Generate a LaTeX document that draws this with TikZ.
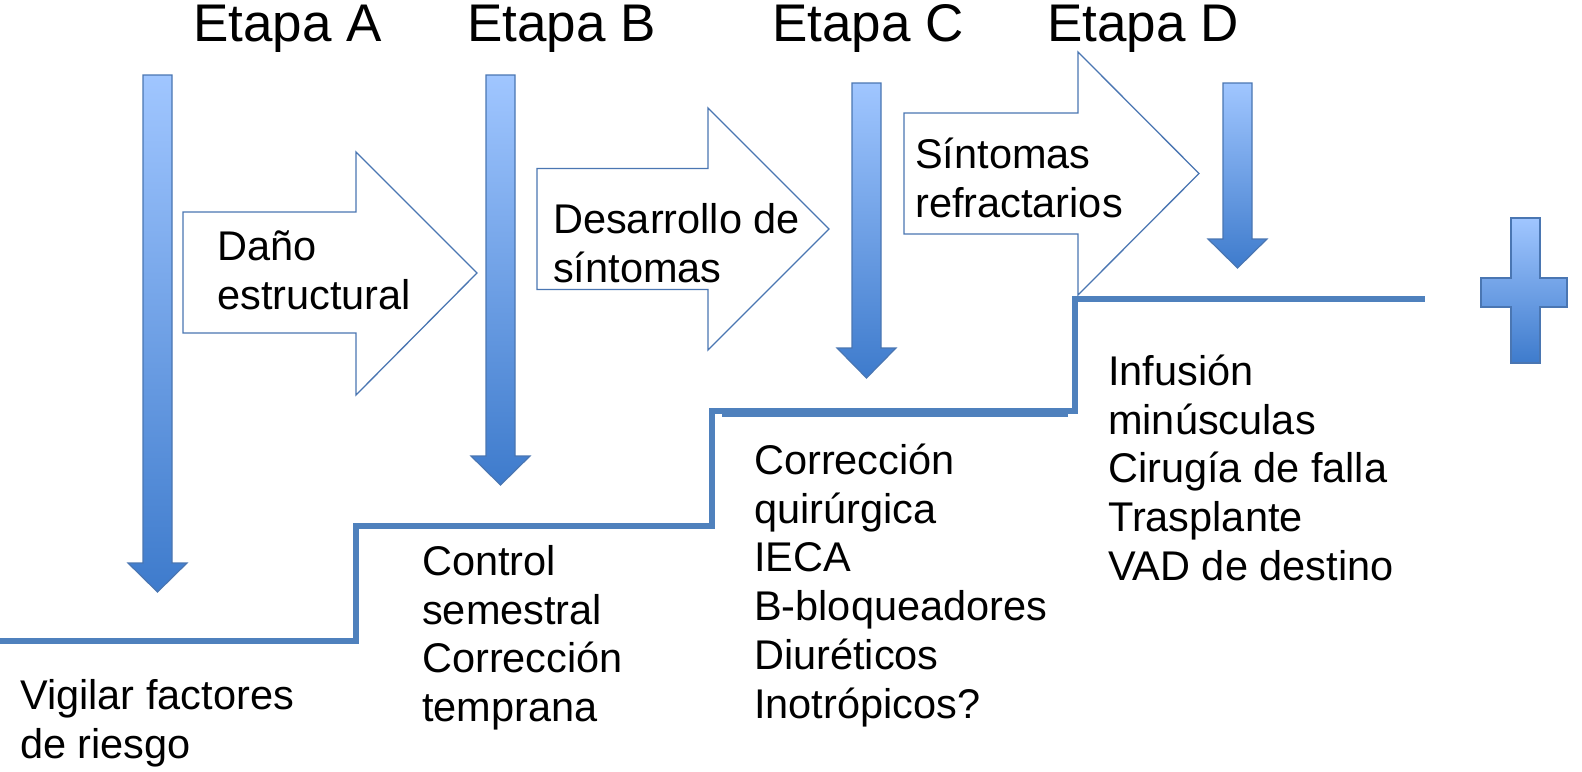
\documentclass[tikz,border=0pt]{standalone}
\usepackage{fontspec}
\setmainfont{Liberation Sans}
\definecolor{atop}{RGB}{160,198,255}
\definecolor{abot}{RGB}{62,123,204}
\definecolor{aline}{RGB}{74,118,178}
\definecolor{stepc}{RGB}{79,129,189}
\newcommand\bodyfont{\fontsize{41.5bp}{48.8bp}\selectfont}
\newcommand\headfont{\fontsize{53bp}{60bp}\selectfont}
\newcommand\bl{\rule{0pt}{42bp}}
\begin{document}
\begin{tikzpicture}[x=1bp,y=-1bp,
  txt/.style={anchor=north west,inner sep=0pt,align=left,font=\bodyfont},
  hd/.style={anchor=base west,inner sep=0pt,font=\headfont},
  varrow/.style={draw=aline,line width=1.2bp,top color=atop,bottom color=abot},
  barrow/.style={draw=aline,line width=1.3bp,fill=white,line join=miter},
  stepline/.style={draw=stepc,line width=5.5bp,line join=miter}]
\useasboundingbox (0,0) rectangle (1582,772);
% headers
\node[hd] (ha) at (193,42) {Etapa A};
\node[hd] (hb) at (467,42) {Etapa B};
\node[hd] (hc) at (772,42) {Etapa C};
\node[hd] (hd) at (1047,42) {Etapa D};
% step line
\draw[stepline] (0,641) -- (356,641) -- (356,526) -- (712,526) -- (712,411) -- (1075,411) -- (1075,299) -- (1425,299);
\draw[draw=stepc,line width=6bp] (722,414) -- (1068,414);
% block arrows
\draw[barrow] (183,212) -- (356,212) -- (356,152) -- (477,273) -- (356,395) -- (356,333) -- (183,333) -- cycle;
\draw[barrow] (537,168.5) -- (708,168.5) -- (708,108) -- (829,229) -- (708,350) -- (708,289.5) -- (537,289.5) -- cycle;
\draw[barrow] (904,113) -- (1078,113) -- (1078,52) -- (1199,173.5) -- (1078,295) -- (1078,234) -- (904,234) -- cycle;
% vertical arrows
\path[varrow] (143,75) -- (172,75) -- (172,563) -- (187,563) -- (157.5,592) -- (128,563) -- (143,563) -- cycle;
\path[varrow] (486,75) -- (515,75) -- (515,456) -- (530,456) -- (500.5,485) -- (471,456) -- (486,456) -- cycle;
\path[varrow] (852,83) -- (881,83) -- (881,348) -- (896,348) -- (866.5,378) -- (837,348) -- (852,348) -- cycle;
\path[varrow] (1223,83) -- (1252,83) -- (1252,239) -- (1267,239) -- (1237.5,268) -- (1208,239) -- (1223,239) -- cycle;
% cross
\path[varrow] (1511,218) -- (1540,218) -- (1540,278) -- (1567,278) -- (1567,307) -- (1540,307) -- (1540,363) -- (1511,363) -- (1511,307) -- (1481,307) -- (1481,278) -- (1511,278) -- cycle;
% texts in block arrows
\node[txt] (t1) at (217,218) {\bl Daño\\estructural};
\node[txt] (t2) at (553,191) {\bl Desarrollo de\\síntomas};
\node[txt] (t3) at (915,126) {\bl Síntomas\\refractarios};
% stage texts
\node[txt] (sa) at (20,667) {\bl Vigilar factores\\de riesgo};
\node[txt] (sb) at (422,533) {\bl Control\\semestral\\Corrección\\temprana};
\node[txt] (sc) at (754,432) {\bl Corrección\\quirúrgica\\IECA\\B-bloqueadores\\Diuréticos\\Inotrópicos?};
\node[txt] (sd) at (1108,343) {\bl Infusión\\minúsculas\\Cirugía de falla\\Trasplante\\VAD de destino};
\end{tikzpicture}
\end{document}
